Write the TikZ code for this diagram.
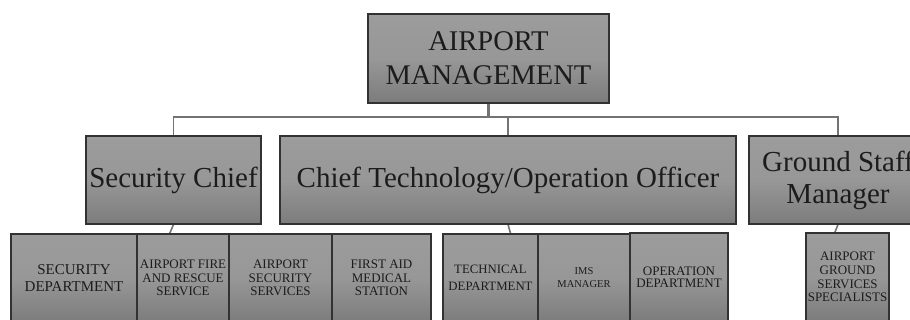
\documentclass[tikz,border=0pt]{standalone}
\usepackage{fontspec}
\setmainfont{Liberation Serif}
\usetikzlibrary{backgrounds}
\pgfdeclarelayer{canvas}
\pgfsetlayers{canvas,background,main}
\definecolor{boxtop}{RGB}{156,156,156}
\definecolor{boxbot}{RGB}{124,124,124}
\definecolor{boxline}{RGB}{50,50,50}
\definecolor{connline}{RGB}{115,115,115}
\definecolor{txt}{RGB}{28,28,28}
\tikzset{
  orgbox/.style={draw=boxline, line width=1.1pt, top color=boxtop, bottom color=boxbot,
    middle color=boxtop!85!boxbot,
    rectangle, inner sep=0pt, align=center, text=txt},
  bigbox/.style={orgbox, font=\fontsize{29}{32}\selectfont},
  subbox/.style={orgbox, minimum height=88pt, font=\fontsize{13}{13.6}\selectfont},
  conn/.style={draw=connline, line width=1.6pt}
}
\begin{document}
\begin{tikzpicture}[x=1pt,y=-1pt]
\useasboundingbox (0,0) rectangle (910,320);
\clip (0,0) rectangle (910,320);
\begin{pgfonlayer}{canvas}
\fill[white] (0,0) rectangle (910,320);
\end{pgfonlayer}

% top
\node[bigbox, minimum width=241pt, minimum height=89pt, font=\fontsize{28.5}{34}\selectfont] (am) at (488.5,58.5) {AIRPORT\\MANAGEMENT};

% second level
\node[bigbox, minimum width=175pt, minimum height=88pt] (sc) at (173.5,180) {Security Chief};
\node[bigbox, minimum width=456pt, minimum height=88pt] (ct) at (508,180) {Chief Technology/Operation Officer};
\node[bigbox, minimum width=178pt, minimum height=88pt] (gs) at (838,180) {Ground Staff\\Manager};

% third level
\node[subbox, minimum width=126pt, font=\fontsize{15}{17}\selectfont] (sd1) at (74,278) {SECURITY\\DEPARTMENT};
\node[subbox, minimum width=92pt] (sd2) at (183,278) {AIRPORT FIRE\\AND RESCUE\\SERVICE};
\node[subbox, minimum width=103pt] (sd3) at (280.5,278) {AIRPORT\\SECURITY\\SERVICES};
\node[subbox, minimum width=99pt] (sd4) at (381.5,278) {FIRST AID\\MEDICAL\\STATION};

\node[subbox, minimum width=95pt, font=\fontsize{12.8}{17}\selectfont] (td1) at (490.5,278) {TECHNICAL\\DEPARTMENT};
\node[subbox, minimum width=92pt, font=\fontsize{10.5}{13}\selectfont] (td2) at (584,278) {IMS\\MANAGER};
\node[subbox, minimum width=98pt, font=\fontsize{13}{12.5}\selectfont] (td3) at (679,277) {OPERATION\\DEPARTMENT};

\node[subbox, minimum width=83pt, font=\fontsize{13}{13.8}\selectfont] (gd1) at (847.5,277) {AIRPORT\\GROUND\\SERVICES\\SPECIALISTS};

% connectors
\begin{scope}[on background layer]
\coordinate (j) at (488.5,117);
\draw[conn, line width=2.2pt] (am.south) -- (j);
\draw[conn] (sc.north) |- (j);
\draw[conn] (ct.north) |- (j);
\draw[conn] (gs.north) |- (j);
\coordinate (t1) at (166,242);
\coordinate (t2) at (513,242);
\coordinate (t3) at (831,242);
\draw[conn] (sc.south) -- (t1);
\draw[conn] (ct.south) -- (t2);
\draw[conn] (gs.south) -- (t3);
\end{scope}
\end{tikzpicture}
\end{document}
